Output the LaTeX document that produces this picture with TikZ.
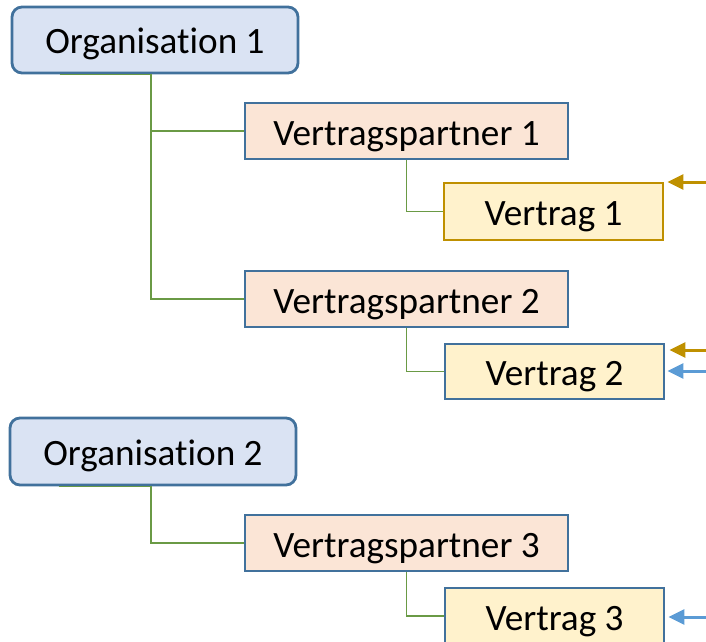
\documentclass[tikz,border=0pt]{standalone}
\usepackage{fontspec}
\setmainfont{Carlito}[Ligatures=NoCommon]
\usetikzlibrary{arrows.meta,calc}
\definecolor{orgfill}{HTML}{DAE3F3}
\definecolor{bordblue}{HTML}{41719C}
\definecolor{vpfill}{HTML}{FBE5D6}
\definecolor{vfill}{HTML}{FFF2CC}
\definecolor{goldc}{HTML}{BF9000}
\definecolor{greenc}{HTML}{6A9A45}
\definecolor{arrblue}{HTML}{5B9BD5}
\begin{document}
\begin{tikzpicture}[x=1pt,y=-1pt,
  every node/.style={font=\fontsize{37.2}{40}\selectfont, inner sep=0pt, line width=2.8pt},
  orgbox/.style={draw=bordblue, fill=orgfill, rounded corners=10pt, minimum width=286pt, minimum height=66pt, text height=31pt, text depth=4pt},
  vpbox/.style={draw=bordblue, fill=vpfill, minimum width=323pt, minimum height=56pt, text height=32pt, text depth=4pt},
  vbox/.style={draw=bordblue, fill=vfill, minimum width=219pt, minimum height=56pt, text height=32pt, text depth=4pt},
  conn/.style={draw=greenc, line width=1.8pt},
  goldarr/.style={draw=goldc, line width=3pt, -{Triangle[length=16pt,width=15pt]}},
  bluearr/.style={draw=arrblue, line width=3pt, -{Triangle[length=16pt,width=15pt]}}]
\useasboundingbox (0,0) rectangle (706,641);
\node[orgbox] (o1) at (155,40) {Organisation 1};
\node[vpbox] (vp1) at (406.5,131) {Vertragspartner 1};
\node[vbox, draw=goldc, minimum height=57pt] (v1) at (553.5,211.5) {Vertrag 1};
\node[vpbox] (vp2) at (406.5,299) {Vertragspartner 2};
\node[vbox, minimum height=55pt] (v2) at (554.5,371.5) {Vertrag 2};
\node[orgbox, minimum height=67pt] (o2) at (153,451.5) {Organisation 2};
\node[vpbox] (vp3) at (406.5,543) {Vertragspartner 3};
\node[vbox] (v3) at (554.5,616) {Vertrag 3};
% connectors
\coordinate (o1s) at ([xshift=49pt]o1.south west);
\coordinate (o1k) at ([xshift=140pt]o1.south west);
\draw[conn] (o1s) -- (o1k) |- (vp1.west);
\draw[conn] (o1k) |- (vp2.west);
\coordinate (o2s) at ([xshift=50pt]o2.south west);
\coordinate (o2k) at ([xshift=142pt]o2.south west);
\draw[conn] (o2s) -- (o2k) |- (vp3.west);
\draw[conn] (vp1.south) |- (v1.west);
\draw[conn] (vp2.south) |- (v2.west);
\draw[conn] (vp3.south) |- (v3.west);
% arrows
\coordinate (a1) at (706,182);
\coordinate (a2) at (706,350);
\coordinate (a3) at (706,371);
\coordinate (a4) at (706,617);
\draw[goldarr] (a1) -- ([xshift=3pt]v1.east |- a1);
\draw[goldarr] (a2) -- ([xshift=4pt]v2.east |- a2);
\draw[bluearr] (a3) -- ([xshift=2pt]v2.east |- a3);
\draw[bluearr] (a4) -- ([xshift=3pt]v3.east |- a4);
\end{tikzpicture}
\end{document}
